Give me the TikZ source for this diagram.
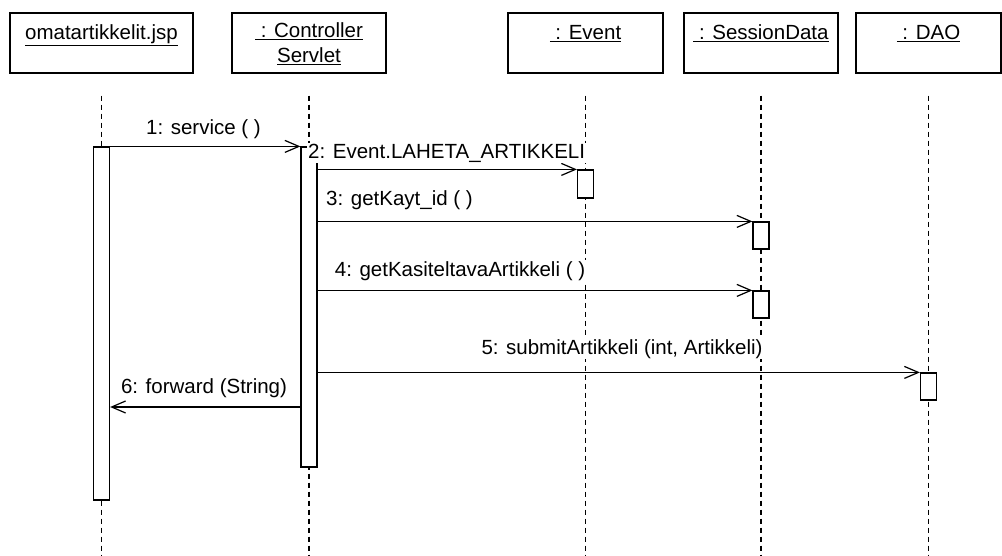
\documentclass[tikz,border=0pt]{standalone}
\usepackage{fontspec}
\setmainfont{Liberation Sans}
\usetikzlibrary{arrows.meta, positioning, calc}

\begin{document}
\begin{tikzpicture}[x=1pt, y=-1pt, font=\fontsize{20.5}{25}\selectfont,
  objbox/.style={draw, line width=1.2pt, minimum height=60pt, inner sep=0pt},
  objname/.style={anchor=base, align=center, inner sep=0pt},
  act/.style={draw, fill=white, line width=1.2pt, minimum width=16pt, inner sep=0pt},
  life/.style={line width=1.2pt, dash pattern=on 5pt off 4pt},
  msg/.style={line width=1.2pt, -{Straight Barb[length=14pt, width=12pt]}},
  msglabel/.style={anchor=base, fill=white, inner sep=1pt}]
  \useasboundingbox (0,0) rectangle (1002,555);

  % objects
  \node[objbox, minimum width=183pt] (jsp) at (101.5,43) {};
  \node[objbox, minimum width=154pt] (ctrl) at (309,43) {};
  \node[objbox, minimum width=155pt] (event) at (585.5,43) {};
  \node[objbox, minimum width=154pt] (sdata) at (761,43) {};
  \node[objbox, minimum width=145pt] (dao) at (928.5,43) {};
  \node[objname] (jspname) at ([yshift=-27pt]jsp.north) {\underline{omatartikkelit.jsp}};
  \node[objname] (ctrlname) at ([yshift=-50pt]ctrl.north) {\underline{\ : Controller}\\\underline{Servlet}};
  \node[objname] (eventname) at ([yshift=-27pt]event.north) {\underline{\ : Event}};
  \node[objname] (sdataname) at ([yshift=-27pt]sdata.north) {\underline{\ : SessionData}};
  \node[objname] (daoname) at ([yshift=-27pt]dao.north) {\underline{\ : DAO}};

  % lifelines
  \foreach \o in {jsp, ctrl, event, sdata, dao}
    \draw[life] ([yshift=-22pt]\o.south) -- (\o.south |- 0,555);

  % activations
  \node[act, minimum height=353pt] (jspact) at (jsp |- 0,323.5) {};
  \node[act, minimum height=320pt] (ctrlact) at (ctrl |- 0,307) {};
  \node[act, minimum height=28pt] (eventact) at (event |- 0,184) {};
  \node[act, minimum height=27pt] (sdact1) at (sdata |- 0,235.5) {};
  \node[act, minimum height=27pt] (sdact2) at (sdata |- 0,304.5) {};
  \node[act, minimum height=27pt] (daoact) at (dao |- 0,386.5) {};

  % messages
  \draw[msg] (jspact.north east) -- (ctrlact.north west);
  \draw[msg] (ctrlact.east |- eventact.north) -- (eventact.north west);
  \draw[msg] (ctrlact.east |- sdact1.north) -- (sdact1.north west);
  \draw[msg] (ctrlact.east |- sdact2.north) -- (sdact2.north west);
  \draw[msg] (ctrlact.east |- daoact.north) -- (daoact.north west);
  \coordinate (fwd) at (ctrlact.west |- 0,407);
  \draw[msg] (fwd) -- (jspact.east |- fwd);

  \node[msglabel] (m1) at (203.5,134) {1: service ( )};
  \node[msglabel, anchor=base west] (m2) at (307,158) {2: Event.LAHETA\_ARTIKKELI};
  \node[msglabel, anchor=base west] (m3) at (325,205) {3: getKayt\_id ( )};
  \node[msglabel] (m4) at (460,276) {4: getKasiteltavaArtikkeli ( )};
  \node[msglabel] (m5) at (622,354) {5: submitArtikkeli (int, Artikkeli)};
  \node[msglabel] (m6) at (204,393) {6: forward (String)};
\end{tikzpicture}
\end{document}
